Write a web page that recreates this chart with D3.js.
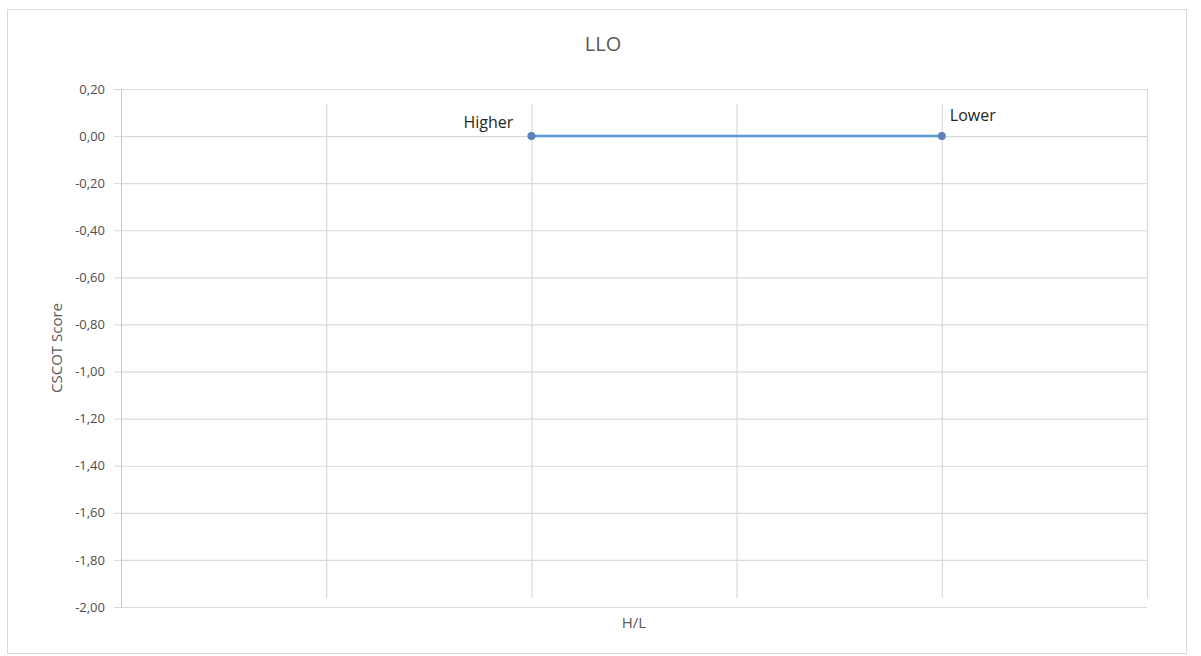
<!DOCTYPE html>
<html>
<head>
<meta charset="utf-8">
<script src="https://cdn.jsdelivr.net/npm/d3@7"></script>
<style>
  html, body { margin: 0; padding: 0; background: #fff; }
  svg { display: block; }
  text { font-family: "Open Sans", "Noto Sans", sans-serif; }
</style>
</head>
<body>
<svg id="chart" width="1201" height="656"></svg>
<script>
// Series: group labels, their position on the H/L axis and CSCOT scores
const groups = ["Higher", "Lower"];
const hlPositions = [2, 4];
const scores = [0.0, 0.0];
const yTicks = [0.2, 0, -0.2, -0.4, -0.6, -0.8, -1.0, -1.2, -1.4, -1.6, -1.8, -2.0];
const xGrid = [1, 2, 3, 4];

const svg = d3.select("#chart");
const plotL = 121, plotR = 1147, plotT = 89, plotB = 607;

const x = d3.scaleLinear().domain([0, 5]).range([plotL, plotR]);
const y = d3.scaleLinear().domain([-2, 0.2]).range([plotB, plotT]);
const fmt = v => d3.format(".2f")(v).replace(".", ",").replace("−", "-");

// chart frame
svg.append("rect")
  .attr("x", 7.5).attr("y", 9.5).attr("width", 1179).attr("height", 644)
  .attr("fill", "#fff").attr("stroke", "#d9d9d9");

// horizontal gridlines
svg.append("g").selectAll("line").data(yTicks).join("line")
  .attr("x1", plotL).attr("x2", plotR)
  .attr("y1", d => y(d) + 0.5).attr("y2", d => y(d) + 0.5)
  .attr("stroke", "#d9d9d9").attr("stroke-width", 1.2);

// value axis with tick stubs
const yAxis = d3.axisLeft(y).tickValues(yTicks).tickFormat(fmt).tickSize(7).tickPadding(9);
const gy = svg.append("g").attr("transform", `translate(${plotL},0)`).call(yAxis);
gy.select(".domain").attr("stroke", "#c8c8c8");
gy.selectAll(".tick line").attr("stroke", "#d9d9d9");
gy.selectAll(".tick text").attr("fill", "#4d4d4d").attr("font-size", 13)
  .attr("font-family", "'Open Sans', sans-serif");

// vertical gridlines
svg.append("g").selectAll("line").data(xGrid).join("line")
  .attr("x1", d => x(d) + 0.5).attr("x2", d => x(d) + 0.5)
  .attr("y1", plotT + 15).attr("y2", plotB - 9)
  .attr("stroke", "#d9d9d9").attr("stroke-width", 1.2);
svg.append("line")
  .attr("x1", x(5) + 0.5).attr("x2", x(5) + 0.5)
  .attr("y1", plotT).attr("y2", plotB - 9)
  .attr("stroke", "#d9d9d9").attr("stroke-width", 1.2);

// title and axis titles
svg.append("text").attr("x", 603).attr("y", 51).attr("text-anchor", "middle")
  .attr("font-size", 20).attr("fill", "#595959").text("LLO");
svg.append("text").attr("x", (plotL + plotR) / 2).attr("y", 628).attr("text-anchor", "middle")
  .attr("font-size", 15).attr("fill", "#595959").text("H/L");
svg.append("text")
  .attr("transform", `translate(62, ${(plotT + plotB) / 2}) rotate(-90)`)
  .attr("text-anchor", "middle").attr("font-size", 15).attr("fill", "#595959")
  .text("CSCOT Score");

// series line and markers
const pts = groups.map((g, i) => ({ g, hx: hlPositions[i], v: scores[i] }));
svg.append("path").datum(pts)
  .attr("fill", "none").attr("stroke", "#5b9bd5").attr("stroke-width", 2.5)
  .attr("d", d3.line().x(d => x(d.hx)).y(d => y(d.v)));
svg.append("g").selectAll("circle").data(pts).join("circle")
  .attr("cx", d => x(d.hx)).attr("cy", d => y(d.v)).attr("r", 4)
  .attr("fill", "#5b82b8");

// data labels
svg.append("g").selectAll("text").data(pts).join("text")
  .attr("x", (d, i) => i === 0 ? x(d.hx) - 18 : x(d.hx) + 8)
  .attr("y", (d, i) => i === 0 ? y(d.v) - 8 : y(d.v) - 15)
  .attr("text-anchor", (d, i) => i === 0 ? "end" : "start")
  .attr("font-size", 16).attr("fill", "#262626")
  .text(d => d.g);
</script>
</body>
</html>
